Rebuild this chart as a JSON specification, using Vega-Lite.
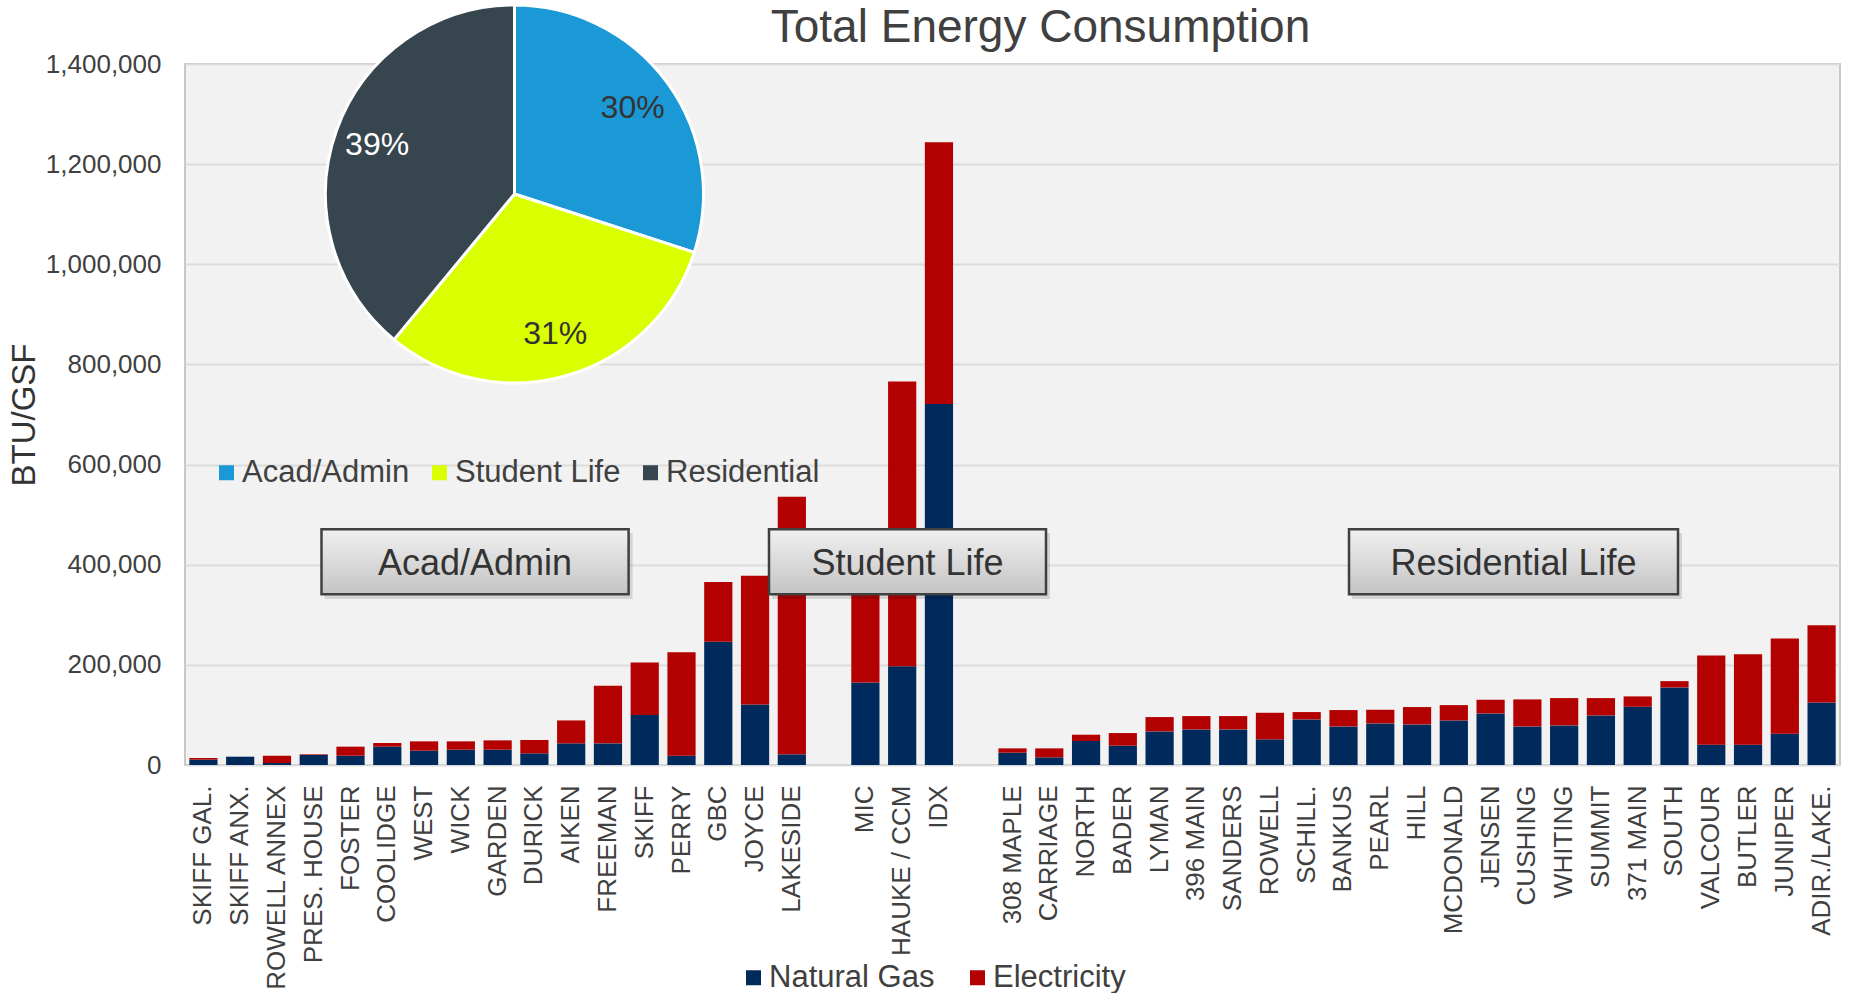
{
  "$schema": "https://vega.github.io/schema/vega-lite/v6.json",
  "width": 1655,
  "height": 701,
  "autosize": {"type": "none"},
  "padding": {"left": 185, "top": 64, "right": 9, "bottom": 228},
  "background": "white",
  "config": {
    "font": "Liberation Sans",
    "view": {"fill": "#f2f2f2", "stroke": "#c8c8c8", "strokeWidth": 2},
    "axis": {"labelFont": "Liberation Sans", "titleFont": "Liberation Sans"},
    "legend": {"labelFont": "Liberation Sans"}
  },
  "title": {
    "text": "Total Energy Consumption",
    "fontSize": 46,
    "font": "Liberation Sans",
    "fontWeight": "normal",
    "color": "#404040",
    "anchor": "middle",
    "frame": "group",
    "baseline": "alphabetic",
    "offset": -89,
    "dx": 28
  },
  "datasets": {
    "bars": [
      {"b": "SKIFF GAL.", "Natural Gas": 10600, "Electricity": 3400},
      {"b": "SKIFF ANX.", "Natural Gas": 16600, "Electricity": 0},
      {"b": "ROWELL ANNEX", "Natural Gas": 4000, "Electricity": 14500},
      {"b": "PRES. HOUSE", "Natural Gas": 20000, "Electricity": 1300},
      {"b": "FOSTER", "Natural Gas": 18600, "Electricity": 18000},
      {"b": "COOLIDGE", "Natural Gas": 36600, "Electricity": 7300},
      {"b": "WEST", "Natural Gas": 28600, "Electricity": 18600},
      {"b": "WICK", "Natural Gas": 30600, "Electricity": 16600},
      {"b": "GARDEN", "Natural Gas": 30600, "Electricity": 18600},
      {"b": "DURICK", "Natural Gas": 23300, "Electricity": 26600},
      {"b": "AIKEN", "Natural Gas": 43200, "Electricity": 45800},
      {"b": "FREEMAN", "Natural Gas": 43200, "Electricity": 115000},
      {"b": "SKIFF", "Natural Gas": 99700, "Electricity": 105000},
      {"b": "PERRY", "Natural Gas": 18600, "Electricity": 206700},
      {"b": "GBC", "Natural Gas": 245900, "Electricity": 119600},
      {"b": "JOYCE", "Natural Gas": 121000, "Electricity": 257200},
      {"b": "LAKESIDE", "Natural Gas": 21300, "Electricity": 514400},
      {"b": "MIC", "Natural Gas": 164900, "Electricity": 285000},
      {"b": "HAUKE / CCM", "Natural Gas": 197400, "Electricity": 568300},
      {"b": "IDX", "Natural Gas": 721200, "Electricity": 522400},
      {"b": "308 MAPLE", "Natural Gas": 24600, "Electricity": 8600},
      {"b": "CARRIAGE", "Natural Gas": 15300, "Electricity": 17900},
      {"b": "NORTH", "Natural Gas": 47900, "Electricity": 12600},
      {"b": "BADER", "Natural Gas": 38600, "Electricity": 25200},
      {"b": "LYMAN", "Natural Gas": 67100, "Electricity": 28600},
      {"b": "396 MAIN", "Natural Gas": 71100, "Electricity": 26600},
      {"b": "SANDERS", "Natural Gas": 71100, "Electricity": 26600},
      {"b": "ROWELL", "Natural Gas": 51200, "Electricity": 53100},
      {"b": "SCHILL.", "Natural Gas": 91100, "Electricity": 14600},
      {"b": "BANKUS", "Natural Gas": 77100, "Electricity": 32600},
      {"b": "PEARL", "Natural Gas": 83100, "Electricity": 27200},
      {"b": "HILL", "Natural Gas": 81100, "Electricity": 34600},
      {"b": "MCDONALD", "Natural Gas": 89000, "Electricity": 30600},
      {"b": "JENSEN", "Natural Gas": 103000, "Electricity": 27300},
      {"b": "CUSHING", "Natural Gas": 77100, "Electricity": 53900},
      {"b": "WHITING", "Natural Gas": 79100, "Electricity": 54500},
      {"b": "SUMMIT", "Natural Gas": 99000, "Electricity": 34600},
      {"b": "371 MAIN", "Natural Gas": 116300, "Electricity": 20700},
      {"b": "SOUTH", "Natural Gas": 154900, "Electricity": 12600},
      {"b": "VALCOUR", "Natural Gas": 40600, "Electricity": 178100},
      {"b": "BUTLER", "Natural Gas": 40600, "Electricity": 180700},
      {"b": "JUNIPER", "Natural Gas": 62500, "Electricity": 190100},
      {"b": "ADIR./LAKE.", "Natural Gas": 125000, "Electricity": 154200}
    ],
    "pie": [
      {"cat": "Acad/Admin", "pct": 0.30},
      {"cat": "Student Life", "pct": 0.31},
      {"cat": "Residential", "pct": 0.39}
    ]
  },
  "layer": [
    {
      "data": {"name": "bars"},
      "transform": [{"fold": ["Natural Gas", "Electricity"], "as": ["fuel", "v"]}],
      "mark": {"type": "bar"},
      "encoding": {
        "x": {
          "field": "b", "type": "nominal", "title": null,
          "scale": {
            "domain": ["SKIFF GAL.","SKIFF ANX.","ROWELL ANNEX","PRES. HOUSE","FOSTER","COOLIDGE","WEST","WICK","GARDEN","DURICK","AIKEN","FREEMAN","SKIFF","PERRY","GBC","JOYCE","LAKESIDE","_gap1","MIC","HAUKE / CCM","IDX","_gap2","308 MAPLE","CARRIAGE","NORTH","BADER","LYMAN","396 MAIN","SANDERS","ROWELL","SCHILL.","BANKUS","PEARL","HILL","MCDONALD","JENSEN","CUSHING","WHITING","SUMMIT","371 MAIN","SOUTH","VALCOUR","BUTLER","JUNIPER","ADIR./LAKE."],
            "paddingInner": 0.233, "paddingOuter": 0.117
          },
          "axis": {
            "labelAngle": -90, "labelFontSize": 26, "labelColor": "#404040",
            "labelPadding": 20, "ticks": false, "domain": false, "grid": false,
            "labelLimit": 400,
            "labelExpr": "indexof(datum.label, '_gap') === 0 ? '' : datum.label"
          }
        },
        "y": {
          "field": "v", "type": "quantitative", "stack": "zero", "title": "BTU/GSF",
          "scale": {"domain": [0, 1400000], "nice": false},
          "axis": {
            "values": [0, 200000, 400000, 600000, 800000, 1000000, 1200000, 1400000],
            "format": ",.0f", "labelFontSize": 26, "labelColor": "#404040", "labelPadding": 24,
            "ticks": false, "domain": false, "gridColor": "#dcdcdc", "gridWidth": 2,
            "titleFontSize": 33, "titleColor": "#333333", "titleFontWeight": "normal", "titlePadding": 4
          }
        },
        "color": {
          "field": "fuel", "type": "nominal",
          "scale": {"domain": ["Natural Gas", "Electricity"], "range": ["#002a5c", "#b30000"]},
          "legend": {
            "orient": "none", "legendX": 553, "legendY": 898, "direction": "horizontal",
            "title": null, "symbolType": "square", "symbolSize": 225, "symbolStrokeWidth": 0,
            "labelFontSize": 31, "labelColor": "#404040", "labelLimit": 400,
            "columnPadding": 27, "labelOffset": 0, "padding": 0
          }
        },
        "order": {"field": "fuel", "sort": "descending"}
      }
    },
    {
      "data": {"values": [{"label": "Acad/Admin"}]},
      "layer": [
        {"mark": {"type": "rect", "fill": "#000000", "opacity": 0.12},
         "encoding": {"x": {"value": 139.5}, "x2": {"value": 447.6}, "y": {"value": 469}, "y2": {"value": 535}}},
        {"mark": {"type": "rect", "stroke": "#404040", "strokeWidth": 2.5,
                  "fill": {"gradient": "linear", "x1": 0, "y1": 0, "x2": 0, "y2": 1, "stops": [{"offset": 0, "color": "#f0f0f0"}, {"offset": 1, "color": "#c4c4c4"}]}},
         "encoding": {"x": {"value": 136.5}, "x2": {"value": 443.6}, "y": {"value": 465.3}, "y2": {"value": 530.3}}},
        {"mark": {"type": "text", "fontSize": 36, "color": "#333333", "align": "center", "baseline": "alphabetic"},
         "encoding": {"text": {"field": "label"}, "x": {"value": 290}, "y": {"value": 511}}}
      ]
    },
    {
      "data": {"values": [{"label": "Student Life"}]},
      "layer": [
        {"mark": {"type": "rect", "fill": "#000000", "opacity": 0.12},
         "encoding": {"x": {"value": 587}, "x2": {"value": 865}, "y": {"value": 469}, "y2": {"value": 535}}},
        {"mark": {"type": "rect", "stroke": "#404040", "strokeWidth": 2.5,
                  "fill": {"gradient": "linear", "x1": 0, "y1": 0, "x2": 0, "y2": 1, "stops": [{"offset": 0, "color": "#f0f0f0"}, {"offset": 1, "color": "#c4c4c4"}]}},
         "encoding": {"x": {"value": 584}, "x2": {"value": 861}, "y": {"value": 465.3}, "y2": {"value": 530.3}}},
        {"mark": {"type": "text", "fontSize": 36, "color": "#333333", "align": "center", "baseline": "alphabetic"},
         "encoding": {"text": {"field": "label"}, "x": {"value": 722.5}, "y": {"value": 511}}}
      ]
    },
    {
      "data": {"values": [{"label": "Residential Life"}]},
      "layer": [
        {"mark": {"type": "rect", "fill": "#000000", "opacity": 0.12},
         "encoding": {"x": {"value": 1167}, "x2": {"value": 1497}, "y": {"value": 469}, "y2": {"value": 535}}},
        {"mark": {"type": "rect", "stroke": "#404040", "strokeWidth": 2.5,
                  "fill": {"gradient": "linear", "x1": 0, "y1": 0, "x2": 0, "y2": 1, "stops": [{"offset": 0, "color": "#f0f0f0"}, {"offset": 1, "color": "#c4c4c4"}]}},
         "encoding": {"x": {"value": 1164}, "x2": {"value": 1493}, "y": {"value": 465.3}, "y2": {"value": 530.3}}},
        {"mark": {"type": "text", "fontSize": 36, "color": "#333333", "align": "center", "baseline": "alphabetic"},
         "encoding": {"text": {"field": "label"}, "x": {"value": 1328.5}, "y": {"value": 511}}}
      ]
    },
    {
      "data": {"name": "pie"},
      "layer": [
        {
          "mark": {"type": "arc", "outerRadius": 189, "stroke": "white", "strokeWidth": 3},
          "encoding": {
            "theta": {"field": "pct", "type": "quantitative", "stack": true},
            "order": {"field": "pct", "sort": "ascending"},
            "x": {"value": 329.5},
            "y": {"value": 130},
            "color": {
              "field": "cat", "type": "nominal",
              "scale": {"domain": ["Acad/Admin", "Student Life", "Residential"], "range": ["#1b98d6", "#d9ff00", "#37454f"]},
              "legend": {
                "orient": "none", "legendX": 26, "legendY": 393, "direction": "horizontal",
                "title": null, "symbolType": "square", "symbolSize": 225, "symbolStrokeWidth": 0,
                "labelFontSize": 31, "labelColor": "#404040", "labelLimit": 400,
                "columnPadding": 14, "labelOffset": 0, "padding": 0
              }
            }
          }
        },
        {
          "mark": {"type": "text", "radius": 146, "fontSize": 32},
          "encoding": {
            "theta": {"field": "pct", "type": "quantitative", "stack": true},
            "order": {"field": "pct", "sort": "ascending"},
            "x": {"value": 329.5},
            "y": {"value": 130},
            "text": {"field": "pct", "type": "quantitative", "format": ".0%"},
            "color": {"condition": {"test": "datum.cat === 'Residential'", "value": "#ffffff"}, "value": "#333333"}
          }
        }
      ]
    }
  ],
  "resolve": {"scale": {"color": "independent"}, "legend": {"color": "independent"}}
}
